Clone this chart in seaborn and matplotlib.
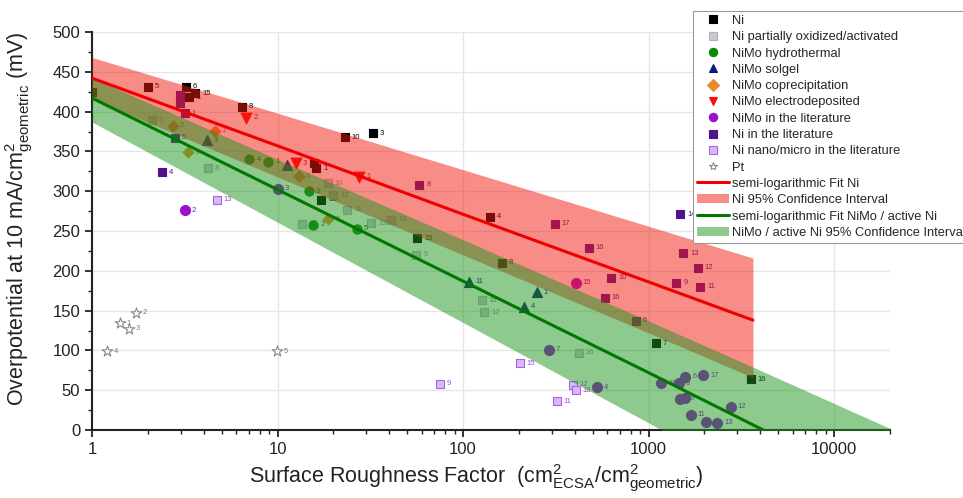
import numpy as np
import pandas as pd
import matplotlib
matplotlib.use("Agg")
import matplotlib.pyplot as plt
import seaborn as sns
from matplotlib.ticker import MultipleLocator, LogLocator, FuncFormatter, NullFormatter
from matplotlib.lines import Line2D
from matplotlib.patches import Patch

# ---------------- data ----------------
ni_x = [1.0, 2.0, 3.2, 3.6, 3.35, 6.4, 23, 32.5, 15.8, 16.2, 139, 162, 1090, 3560, 17.2, 56.5]
ni_y = [425, 431, 431, 423, 418, 406, 368, 373, 335, 329, 268, 210, 109, 64, 289, 241]
ni_lab = ["", "5", "6", "15", "1", "8", "10", "3", "", "1", "4", "8", "7", "16", "10", "15"]

niox_x = [2.1, 4.2, 18.6, 20, 23.8, 13.6, 32, 41, 56, 126, 130, 420]
niox_y = [389, 329, 310, 295, 277, 259, 260, 264, 220, 163, 148, 97]
niox_lab = ["9", "8", "10", "12", "11", "16", "13", "14", "5", "16", "12", "16"]

hyd_x = [7.06, 8.9, 14.7, 15.6, 26.9]
hyd_y = [340, 337, 300, 258, 253]
hyd_lab = ["4", "1", "3", "2", "5"]

sol_x = [4.15, 11.2, 107, 250, 212]
sol_y = [364, 333, 186, 173, 155]
sol_lab = ["3", "2", "11", "1", "4"]

cop_x = [2.73, 4.6, 3.28, 18.8, 13.1]
cop_y = [382, 376, 349, 265, 319]
cop_lab = ["2", "1", "3", "5", "4"]

ele_x = [6.8, 12.5, 27.6]
ele_y = [392, 335, 318]
ele_lab = ["2", "3", "1"]

nimolit_x = [3.16, 10.0, 405, 290, 525, 1170, 1450, 1580, 1970, 1470, 1580, 1690, 2050, 2350, 2770]
nimolit_y = [276, 303, 185, 101, 54, 59, 59, 67, 69, 39, 40, 19, 10, 9, 29]
nimolit_lab = ["2", "3", "15", "7", "4", "10", "8", "6", "17", "16", "", "11", "7", "13", "12"]

nilit_x = [2.38, 2.8, 2.97, 2.97, 3.16, 58, 312, 475, 630, 580, 850, 1410, 1540, 1840, 1900, 1480]
nilit_y = [324, 367, 421, 411, 398, 308, 259, 229, 191, 166, 137, 185, 222, 204, 180, 271]
nilit_lab = ["4", "5", "", "", "1", "8", "17", "16", "10", "16", "6", "9", "13", "12", "11", "14"]

nano_x = [4.7, 75, 202, 390, 320, 405]
nano_y = [289, 58, 84, 57, 36, 50]
nano_lab = ["13", "9", "15", "12", "11", "19"]

pt_x = [1.41, 1.72, 1.58, 1.2, 9.9]
pt_y = [134, 147, 127, 99, 99]
pt_lab = ["1", "2", "3", "4", "5"]

# semi-logarithmic fits and confidence bands (read at decades)
fit_ni_x = [1, 10, 100, 1000, 3650]
fit_ni_y = [442, 357, 271, 186, 138]
ci_ni_upper = [468, 398, 327, 256, 216]
ci_ni_lower = [416, 318, 220, 122, 66]

fit_nimo_x = [1, 10, 100, 1000, 4150]
fit_nimo_y = [417, 302, 187, 72, 0]
ci_nimo_x = [1, 10, 100, 1000, 3650, 20000]
ci_nimo_upper = [442, 340, 239, 137, 79, 2]
ci_nimo_lower = [387, 261, 135, 9, -62, -153]

legend_labels = ["Ni", "Ni partially oxidized/activated", "NiMo hydrothermal", "NiMo solgel",
                 "NiMo coprecipitation", "NiMo electrodeposited", "NiMo in the literature",
                 "Ni in the literature", "Ni nano/micro in the literature", "Pt",
                 "semi-logarithmic Fit Ni", "Ni 95% Confidence Interval",
                 "semi-logarithmic Fit NiMo / active Ni", "NiMo / active Ni 95% Confidence Interval"]

# ---------------- styling ----------------
sns.set_style("white")
plt.rcParams['font.family'] = ['Liberation Sans', 'DejaVu Sans']
plt.rcParams['mathtext.fontset'] = 'custom'
plt.rcParams['mathtext.rm'] = 'Liberation Sans'
plt.rcParams['mathtext.it'] = 'Liberation Sans:italic'
plt.rcParams['mathtext.bf'] = 'Liberation Sans:bold'

fig = plt.figure(figsize=(9.63, 4.98), dpi=100)
ax = fig.add_axes([92 / 963, 1 - 430 / 498, (890 - 92) / 963, (430 - 32) / 498])
ax.set_xscale('log')

series = [
    (ni_x, ni_y, ni_lab, dict(marker='s', s=38, color='black', edgecolor='black'), 'black'),
    (niox_x, niox_y, niox_lab, dict(marker='s', s=38, color='#C9C9D2', edgecolor='#B0B0BA'), '#909098'),
    (hyd_x, hyd_y, hyd_lab, dict(marker='o', s=44, color='#0A8A0A', edgecolor='#0A8A0A'), '#0A6A0A'),
    (sol_x, sol_y, sol_lab, dict(marker='^', s=52, color='#0A1A7A', edgecolor='#0A1A7A'), '#0A1A7A'),
    (cop_x, cop_y, cop_lab, dict(marker='D', s=30, color='#E8892F', edgecolor='#E8892F'), '#C87020'),
    (ele_x, ele_y, ele_lab, dict(marker='v', s=60, color='#FF0A0A', edgecolor='#FF0A0A'), '#E00000'),
    (nimolit_x, nimolit_y, nimolit_lab, dict(marker='o', s=52, color='#9A10D0', edgecolor='#9A10D0'), '#8A10C0'),
    (nilit_x, nilit_y, nilit_lab, dict(marker='s', s=40, color='#55108C', edgecolor='#55108C'), '#55108C'),
    (nano_x, nano_y, nano_lab, dict(marker='s', s=28, color='#D8B8F8', edgecolor='#B060E8'), '#B040E0'),
    (pt_x, pt_y, pt_lab, dict(marker='*', s=65, color='white', edgecolor='#8A8A8A'), '#7A7A7A'),
]

for xs, ys, labs, kw, tcol in series:
    df = pd.DataFrame({'x': xs, 'y': ys})
    sns.scatterplot(data=df, x='x', y='y', ax=ax, linewidth=0.8, zorder=2, legend=False, **kw)
    for xv, yv, lb in zip(xs, ys, labs):
        if lb:
            ax.text(xv * 1.09, yv, lb, fontsize=5.5, color=tcol, va='center', ha='left', zorder=2)

# confidence bands (drawn over markers with transparency)
ax.fill_between(fit_ni_x, ci_ni_lower, ci_ni_upper, color='#F21A10', alpha=0.5, lw=0, zorder=3)
ax.fill_between(ci_nimo_x, ci_nimo_lower, ci_nimo_upper, color='#1E961E', alpha=0.5, lw=0, zorder=3.1)

# fit lines
sns.lineplot(x=fit_ni_x, y=fit_ni_y, ax=ax, color='#F00000', lw=2.2, zorder=4)
sns.lineplot(x=fit_nimo_x, y=fit_nimo_y, ax=ax, color='#007800', lw=2.2, zorder=4)

ax.set_xlim(1, 20000)
ax.set_ylim(0, 500)

ax.yaxis.set_major_locator(MultipleLocator(50))
ax.yaxis.set_minor_locator(MultipleLocator(25))
ax.xaxis.set_major_locator(LogLocator(base=10, numticks=10))
ax.xaxis.set_major_formatter(FuncFormatter(lambda v, p: f"{int(round(v))}"))
ax.xaxis.set_minor_locator(LogLocator(base=10, subs=np.arange(2, 10), numticks=50))
ax.xaxis.set_minor_formatter(NullFormatter())

ax.tick_params(axis='both', which='major', direction='out', length=5, width=1.3,
               labelsize=12, colors='#222222', bottom=True, left=True)
ax.tick_params(axis='both', which='minor', direction='out', length=3, width=1.0,
               bottom=True, left=True, colors='#222222')

for sp in ['top', 'right']:
    ax.spines[sp].set_visible(False)
for sp in ['left', 'bottom']:
    ax.spines[sp].set_linewidth(1.5)
    ax.spines[sp].set_color('#222222')

ax.grid(True, which='major', color='#E6E6E6', lw=1.0)
ax.set_axisbelow(True)

ax.set_ylabel(r'Overpotential at 10 mA/cm$^{2}_{\mathrm{geometric}}$ (mV)', fontsize=15.5, color='#222222')
ax.set_xlabel(r'Surface Roughness Factor  (cm$^{2}_{\mathrm{ECSA}}$/cm$^{2}_{\mathrm{geometric}}$)', fontsize=15.5,
              color='#222222')
ax.yaxis.set_label_coords(-0.072, 0.53)
ax.xaxis.set_label_coords(0.482, -0.083)

# legend
handles = []
for xs, ys, labs, kw, tcol in series:
    handles.append(Line2D([], [], linestyle='none', marker=kw['marker'], markersize=6,
                          markerfacecolor=kw['color'], markeredgecolor=kw['edgecolor'], markeredgewidth=0.8))
handles += [
    Line2D([], [], color='#F00000', lw=2.2),
    Patch(facecolor='#F21A10', alpha=0.5, lw=0),
    Line2D([], [], color='#007800', lw=2.2),
    Patch(facecolor='#1E961E', alpha=0.5, lw=0),
]
leg = ax.legend(handles, legend_labels, loc='upper left', bbox_to_anchor=(693 / 963, 1 - 11 / 498),
                bbox_transform=fig.transFigure, fontsize=9.3, frameon=True, fancybox=False,
                edgecolor='#999999', framealpha=1, borderpad=0.3, labelspacing=0.33,
                handlelength=2.5, handletextpad=0.25, borderaxespad=0)
leg.get_frame().set_linewidth(0.8)
leg.set_zorder(10)

fig.savefig("out.png", dpi=100)
